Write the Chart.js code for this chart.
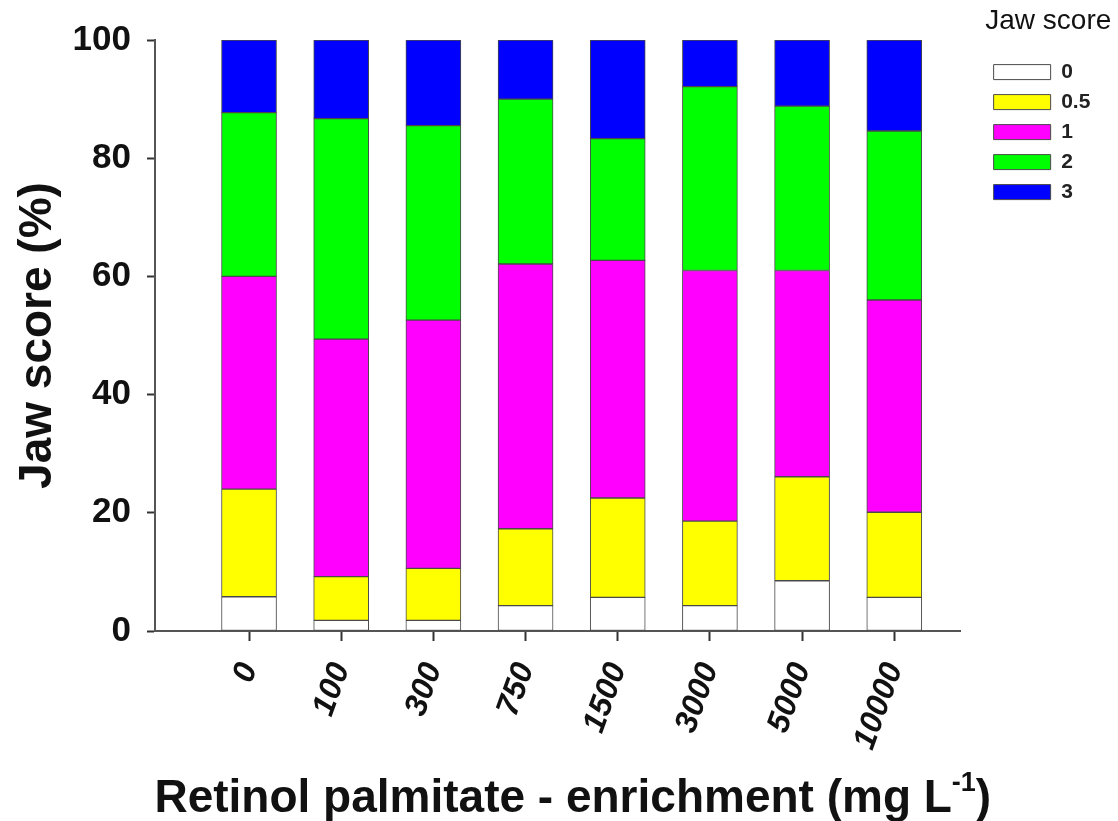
<!DOCTYPE html>
<html>
<head>
<meta charset="utf-8">
<script src="https://cdn.jsdelivr.net/npm/chart.js@4.4.1/dist/chart.umd.min.js"></script>
<style>
  html, body { margin: 0; padding: 0; background: #fff; }
  #jawChart { display: block; }
</style>
</head>
<body>
<canvas id="jawChart" width="1118" height="821"></canvas>
<script>
// Retinol palmitate enrichment levels (mg L-1)
const categories = ['0', '100', '300', '750', '1500', '3000', '5000', '10000'];

// Jaw score shares (%) per enrichment level, bottom to top
const score0 = [5.8, 1.8, 1.8, 4.3, 5.7, 4.3, 8.5, 5.7];
const score05 = [18.2, 7.4, 8.8, 13.0, 16.8, 14.3, 17.6, 14.4];
const score1 = [36.0, 40.2, 42.0, 44.8, 40.2, 42.4, 34.9, 35.9];
const score2 = [27.7, 37.3, 32.9, 27.9, 20.6, 31.1, 27.8, 28.6];
const score3 = [12.3, 13.3, 14.5, 10.0, 16.7, 7.9, 11.2, 15.4];

const scoreLabels = ['0', '0.5', '1', '2', '3'];
const yTicks = [0, 20, 40, 60, 80, 100];

const FONT = 'Arial, "Liberation Sans", sans-serif';

function toPoints(values) {
    return values.map((v, i) => ({ x: i, y: v }));
}

function makeSet(label, values, color) {
    return {
        label: label,
        data: toPoints(values),
        backgroundColor: color,
        borderColor: '#4a4a4a',
        borderWidth: 1,
        borderSkipped: false,
        barThickness: 55
    };
}

// x axis title with a superscript, drawn under the tick labels
const xTitlePlugin = {
    id: 'xTitle',
    afterDraw(chart) {
        const { ctx, chartArea } = chart;
        const main = 'Retinol palmitate - enrichment (mg L';
        const sup = '-1';
        const close = ')';
        ctx.save();
        ctx.fillStyle = '#111';
        ctx.textBaseline = 'alphabetic';
        ctx.textAlign = 'left';
        ctx.font = 'bold 46px ' + FONT;
        const wMain = ctx.measureText(main).width;
        const wClose = ctx.measureText(close).width;
        ctx.font = 'bold 27px ' + FONT;
        const wSup = ctx.measureText(sup).width;
        const total = wMain + wSup + wClose;
        let x = (chartArea.left + chartArea.right) / 2 + 15 - total / 2;
        const y = chart.height - 9;
        ctx.font = 'bold 46px ' + FONT;
        ctx.fillText(main, x, y);
        x += wMain;
        ctx.font = 'bold 27px ' + FONT;
        ctx.fillText(sup, x, y - 21);
        x += wSup;
        ctx.font = 'bold 46px ' + FONT;
        ctx.fillText(close, x, y);
        ctx.restore();
    }
};

const jawChart = new Chart(document.getElementById('jawChart'), {
    type: 'bar',
    data: {
        datasets: [
            makeSet(scoreLabels[0], score0, '#ffffff'),
            makeSet(scoreLabels[1], score05, '#ffff00'),
            makeSet(scoreLabels[2], score1, '#ff00ff'),
            makeSet(scoreLabels[3], score2, '#00ff00'),
            makeSet(scoreLabels[4], score3, '#0000ff')
        ]
    },
    options: {
        responsive: false,
        animation: false,
        layout: { padding: { top: 0, right: 6, bottom: 0, left: 0 } },
        plugins: {
            tooltip: { enabled: false },
            legend: {
                position: 'right',
                align: 'start',
                title: {
                    display: true,
                    text: 'Jaw score',
                    color: '#111',
                    font: { family: FONT, size: 28, weight: 'normal' },
                    padding: { top: 7, bottom: 12 }
                },
                labels: {
                    boxWidth: 57,
                    boxHeight: 15,
                    padding: 9,
                    color: '#222',
                    font: { family: FONT, size: 21, weight: 'bold' },
                    // two trailing spaces widen the legend box so the title is not clipped
                    generateLabels: (chart) => Chart.defaults.plugins.legend.labels.generateLabels(chart)
                        .map(item => Object.assign(item, { text: item.text + '  ' }))
                }
            }
        },
        scales: {
            x: {
                type: 'linear',
                position: 'bottom',
                stacked: true,
                offset: false,
                min: -1.02,
                max: 7.72,
                afterBuildTicks: (scale) => {
                    scale.ticks = categories.map((c, i) => ({ value: i }));
                },
                afterFit: (scale) => { scale.height = 190; },
                grid: {
                    offset: false,
                    drawOnChartArea: false,
                    drawTicks: true,
                    tickLength: 10,
                    tickWidth: 2,
                    tickColor: '#333',
                    color: '#333'
                },
                border: { display: true, color: '#555', width: 2 },
                ticks: {
                    autoSkip: false,
                    minRotation: 70,
                    maxRotation: 70,
                    padding: 17,
                    color: '#111',
                    font: { family: FONT, size: 32, weight: 'bold', style: 'italic' },
                    callback: (value) => categories[value] !== undefined ? categories[value] : ''
                }
            },
            y: {
                stacked: true,
                min: 0,
                max: 100,
                afterBuildTicks: (scale) => {
                    scale.ticks = yTicks.map(v => ({ value: v }));
                },
                afterFit: (scale) => { scale.width = 155; },
                grid: {
                    drawOnChartArea: false,
                    drawTicks: true,
                    tickLength: 8,
                    tickWidth: 2,
                    tickColor: '#333',
                    color: '#333'
                },
                border: { display: true, color: '#555', width: 2 },
                ticks: {
                    padding: 16,
                    color: '#111',
                    font: { family: FONT, size: 35, weight: 'bold' }
                },
                title: {
                    display: true,
                    text: 'Jaw score (%)',
                    color: '#111',
                    font: { family: FONT, size: 46, weight: 'bold' },
                    padding: { top: 11, bottom: 0 }
                }
            },
            // empty spacer axes, they only keep room round the plot
            topSpace: {
                type: 'linear',
                position: 'top',
                grid: { display: false },
                border: { display: false },
                ticks: { display: false },
                afterFit: (scale) => { scale.height = 40; }
            },
            rightSpace: {
                type: 'linear',
                position: 'right',
                grid: { display: false },
                border: { display: false },
                ticks: { display: false },
                afterFit: (scale) => { scale.width = 24; }
            }
        }
    },
    plugins: [xTitlePlugin]
});
</script>
</body>
</html>
